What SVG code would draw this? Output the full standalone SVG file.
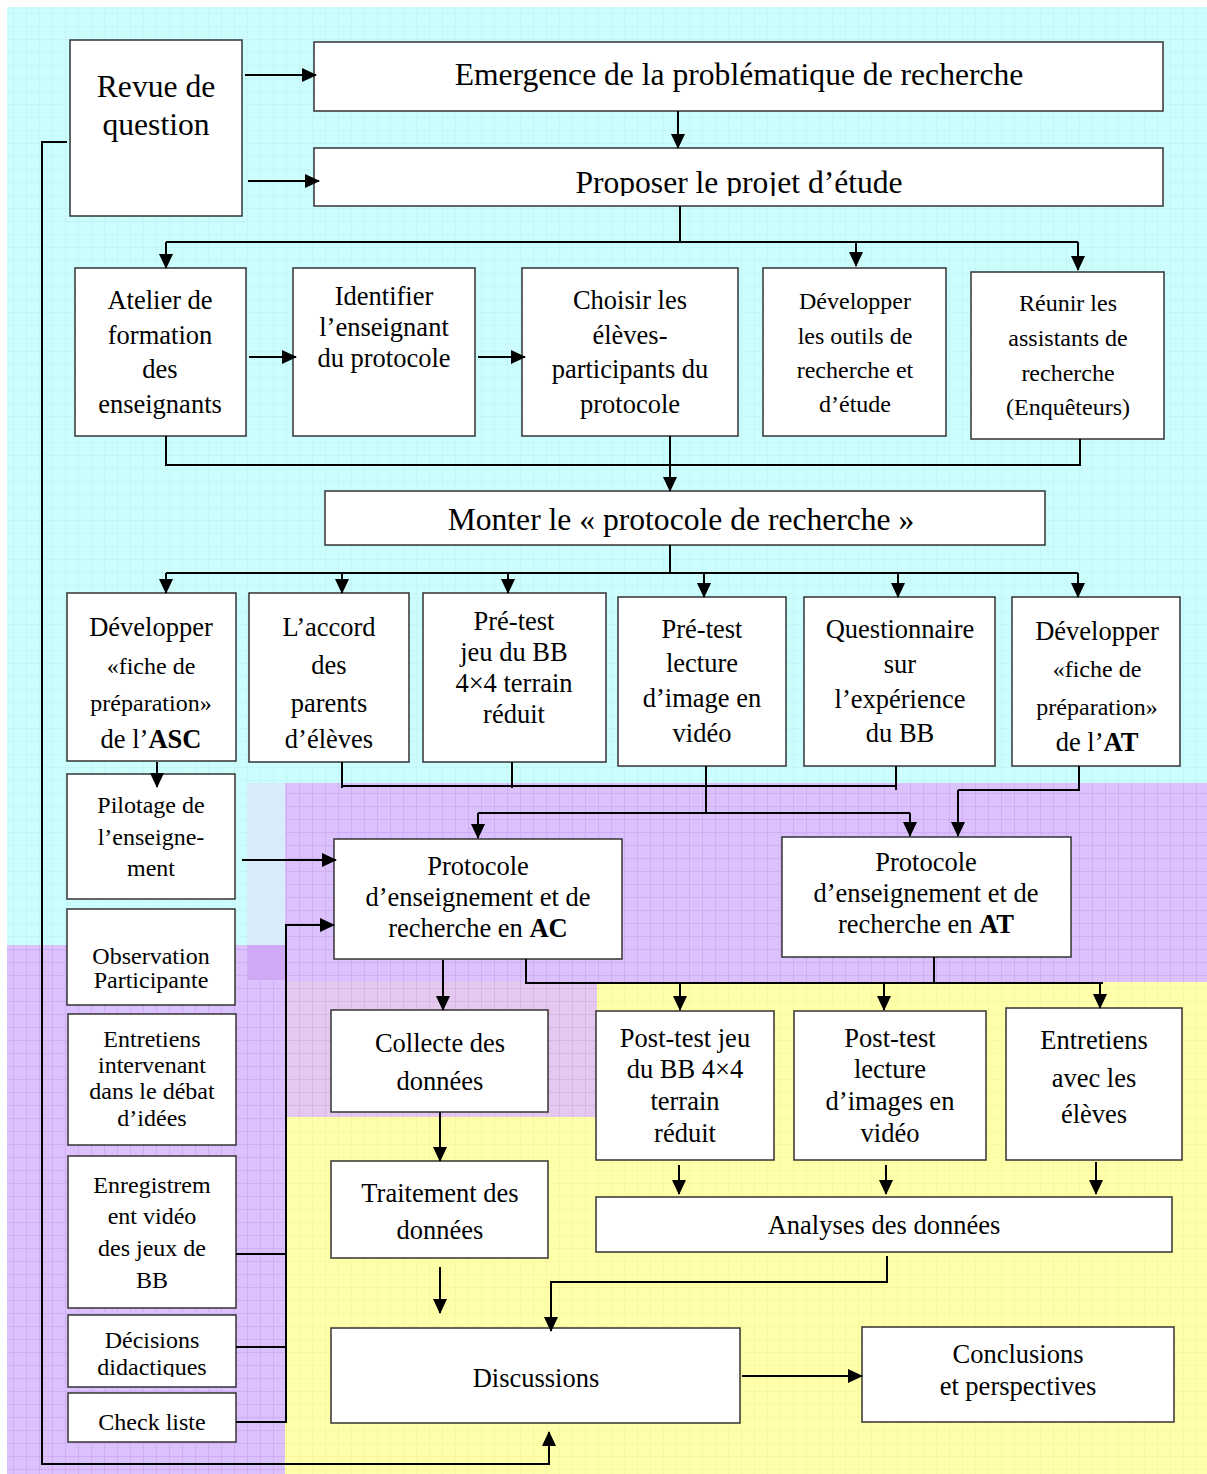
<svg xmlns="http://www.w3.org/2000/svg" width="1207" height="1474" viewBox="0 0 1207 1474">
  <style>
    .box { fill: #ffffff; stroke: #333333; stroke-width: 1.5; }
    .t { font-family: "Liberation Serif", "Times New Roman", serif; fill: #000000; text-anchor: middle; }
    .t32 { font-size: 31.6px; }
    .t26 { font-size: 26.5px; }
    .t24 { font-size: 24px; }
    .ln { fill: none; stroke: #000000; stroke-width: 2; }
    .arr { fill: none; stroke: #000000; stroke-width: 2; marker-end: url(#head); }
    .b { font-weight: bold; }
  </style>
  <defs>
    <marker id="head" markerUnits="userSpaceOnUse" markerWidth="16" markerHeight="16" refX="14" refY="7" orient="auto">
      <path d="M0,0 L15,7 L0,14 z" fill="#000000"/>
    </marker>
    <pattern id="gridCyan" width="13" height="13" patternUnits="userSpaceOnUse">
      <rect width="13" height="13" fill="#ccfdfd"/>
      <path d="M0,0.5 H13 M0.5,0 V13" stroke="#c4f6f8" stroke-width="1"/>
    </pattern>
    <pattern id="gridPurple" width="13" height="13" patternUnits="userSpaceOnUse">
      <rect width="13" height="13" fill="#dcc2fc"/>
      <path d="M0,0.5 H13 M0.5,0 V13" stroke="#cfaef6" stroke-width="1"/>
    </pattern>
    <pattern id="gridPink" width="13" height="13" patternUnits="userSpaceOnUse">
      <rect width="13" height="13" fill="#e4c8ee"/>
      <path d="M0,0.5 H13 M0.5,0 V13" stroke="#d6b6e8" stroke-width="1"/>
    </pattern>
    <pattern id="gridYellow" width="13" height="13" patternUnits="userSpaceOnUse">
      <rect width="13" height="13" fill="#ffffaa"/>
      <path d="M0,0.5 H13 M0.5,0 V13" stroke="#f8f8a2" stroke-width="1"/>
    </pattern>
    <clipPath id="clipProposer"><rect x="314" y="148" width="849" height="48"/></clipPath>
    <clipPath id="clipDecisions"><rect x="68" y="1315" width="168" height="62"/></clipPath>
  </defs>

  <!-- background zones -->
  <g id="background">
    <rect x="0" y="0" width="1207" height="1474" fill="#ffffff"/>
    <rect x="7" y="7" width="1200" height="1467" fill="url(#gridCyan)"/>
    <rect x="247" y="783" width="38" height="162" fill="#d8ecfc"/>
    <rect x="285" y="783" width="922" height="199" fill="url(#gridPurple)"/>
    <rect x="7" y="945" width="278" height="529" fill="url(#gridPurple)"/>
    <rect x="247" y="945" width="38" height="35" fill="#cfa8f6"/>
    <rect x="285" y="982" width="312" height="135" fill="url(#gridPink)"/>
    <rect x="597" y="982" width="610" height="492" fill="url(#gridYellow)"/>
    <rect x="285" y="1117" width="312" height="357" fill="url(#gridYellow)"/>
  </g>

  <!-- nodes -->
  <g id="revue">
    <rect class="box" x="70" y="40" width="172" height="176"/>
    <text class="t t32" x="156" y="97">Revue de</text>
    <text class="t t32" x="156" y="135">question</text>
  </g>
  <g id="emergence">
    <rect class="box" x="314" y="42" width="849" height="69"/>
    <text class="t t32" x="739" y="85">Emergence de la problématique de recherche</text>
  </g>
  <g id="proposer">
    <rect class="box" x="314" y="148" width="849" height="58"/>
    <text class="t t32" x="739" y="193" clip-path="url(#clipProposer)">Proposer le projet d’étude</text>
  </g>

  <g id="atelier">
    <rect class="box" x="75" y="268" width="171" height="168"/>
    <text class="t t26" x="160" y="309">Atelier de</text>
    <text class="t t26" x="160" y="344">formation</text>
    <text class="t t26" x="160" y="378">des</text>
    <text class="t t26" x="160" y="413">enseignants</text>
  </g>
  <g id="identifier">
    <rect class="box" x="293" y="268" width="182" height="168"/>
    <text class="t t26" x="384" y="305">Identifier</text>
    <text class="t t26" x="384" y="336">l’enseignant</text>
    <text class="t t26" x="384" y="367">du protocole</text>
  </g>
  <g id="choisir">
    <rect class="box" x="522" y="268" width="216" height="168"/>
    <text class="t t26" x="630" y="309">Choisir les</text>
    <text class="t t26" x="630" y="344">élèves-</text>
    <text class="t t26" x="630" y="378">participants du</text>
    <text class="t t26" x="630" y="413">protocole</text>
  </g>
  <g id="outils">
    <rect class="box" x="763" y="268" width="183" height="168"/>
    <text class="t t24" x="855" y="309">Développer</text>
    <text class="t t24" x="855" y="344">les outils de</text>
    <text class="t t24" x="855" y="378">recherche et</text>
    <text class="t t24" x="855" y="412">d’étude</text>
  </g>
  <g id="assistants">
    <rect class="box" x="971" y="272" width="193" height="167"/>
    <text class="t t24" x="1068" y="311">Réunir les</text>
    <text class="t t24" x="1068" y="346">assistants de</text>
    <text class="t t24" x="1068" y="381">recherche</text>
    <text class="t t24" x="1068" y="415">(Enquêteurs)</text>
  </g>

  <g id="monter">
    <rect class="box" x="325" y="491" width="720" height="54"/>
    <text class="t t32" x="681" y="530">Monter le « protocole de recherche »</text>
  </g>

  <g id="fiche-asc">
    <rect class="box" x="67" y="593" width="169" height="168"/>
    <text class="t t26" x="151" y="636">Développer</text>
    <text class="t t24" x="151" y="674">«fiche de</text>
    <text class="t t24" x="151" y="711">préparation»</text>
    <text class="t t26" x="151" y="748">de l’<tspan class="b">ASC</tspan></text>
  </g>
  <g id="accord">
    <rect class="box" x="249" y="593" width="160" height="169"/>
    <text class="t t26" x="329" y="636">L’accord</text>
    <text class="t t26" x="329" y="674">des</text>
    <text class="t t26" x="329" y="712">parents</text>
    <text class="t t26" x="329" y="748">d’élèves</text>
  </g>
  <g id="pretest-jeu">
    <rect class="box" x="423" y="593" width="183" height="169"/>
    <text class="t t26" x="514" y="630">Pré-test</text>
    <text class="t t26" x="514" y="661">jeu du BB</text>
    <text class="t t26" x="514" y="692">4×4 terrain</text>
    <text class="t t26" x="514" y="723">réduit</text>
  </g>
  <g id="pretest-lecture">
    <rect class="box" x="618" y="597" width="168" height="169"/>
    <text class="t t26" x="702" y="638">Pré-test</text>
    <text class="t t26" x="702" y="672">lecture</text>
    <text class="t t26" x="702" y="707">d’image en</text>
    <text class="t t26" x="702" y="742">vidéo</text>
  </g>
  <g id="questionnaire">
    <rect class="box" x="804" y="597" width="191" height="169"/>
    <text class="t t26" x="900" y="638">Questionnaire</text>
    <text class="t t26" x="900" y="673">sur</text>
    <text class="t t26" x="900" y="708">l’expérience</text>
    <text class="t t26" x="900" y="742">du BB</text>
  </g>
  <g id="fiche-at">
    <rect class="box" x="1012" y="597" width="168" height="169"/>
    <text class="t t26" x="1097" y="640">Développer</text>
    <text class="t t24" x="1097" y="677">«fiche de</text>
    <text class="t t24" x="1097" y="715">préparation»</text>
    <text class="t t26" x="1097" y="751">de l’<tspan class="b">AT</tspan></text>
  </g>

  <g id="pilotage">
    <rect class="box" x="67" y="774" width="168" height="125"/>
    <text class="t t24" x="151" y="813">Pilotage de</text>
    <text class="t t24" x="151" y="845">l’enseigne-</text>
    <text class="t t24" x="151" y="876">ment</text>
  </g>
  <g id="observation">
    <rect class="box" x="67" y="909" width="168" height="96"/>
    <text class="t t24" x="151" y="964">Observation</text>
    <text class="t t24" x="151" y="988">Participante</text>
  </g>
  <g id="entretiens-debat">
    <rect class="box" x="68" y="1014" width="168" height="131"/>
    <text class="t t24" x="152" y="1047">Entretiens</text>
    <text class="t t24" x="152" y="1073">intervenant</text>
    <text class="t t24" x="152" y="1099">dans le débat</text>
    <text class="t t24" x="152" y="1126">d’idées</text>
  </g>
  <g id="enregistrement">
    <rect class="box" x="68" y="1156" width="168" height="152"/>
    <text class="t t24" x="152" y="1193">Enregistrem</text>
    <text class="t t24" x="152" y="1224">ent vidéo</text>
    <text class="t t24" x="152" y="1256">des jeux de</text>
    <text class="t t24" x="152" y="1288">BB</text>
  </g>
  <g id="decisions">
    <rect class="box" x="68" y="1315" width="168" height="72"/>
    <g clip-path="url(#clipDecisions)">
      <text class="t t24" x="152" y="1348">Décisions</text>
      <text class="t t24" x="152" y="1375">didactiques</text>
    </g>
  </g>
  <g id="checkliste">
    <rect class="box" x="68" y="1393" width="168" height="49"/>
    <text class="t t24" x="152" y="1430">Check liste</text>
  </g>

  <g id="protocole-ac">
    <rect class="box" x="334" y="839" width="288" height="120"/>
    <text class="t t26" x="478" y="875">Protocole</text>
    <text class="t t26" x="478" y="906">d’enseignement et de</text>
    <text class="t t26" x="478" y="937">recherche en <tspan class="b">AC</tspan></text>
  </g>
  <g id="protocole-at">
    <rect class="box" x="782" y="837" width="289" height="120"/>
    <text class="t t26" x="926" y="871">Protocole</text>
    <text class="t t26" x="926" y="902">d’enseignement et de</text>
    <text class="t t26" x="926" y="933">recherche en <tspan class="b">AT</tspan></text>
  </g>

  <g id="collecte">
    <rect class="box" x="331" y="1010" width="217" height="102"/>
    <text class="t t26" x="440" y="1052">Collecte des</text>
    <text class="t t26" x="440" y="1090">données</text>
  </g>
  <g id="traitement">
    <rect class="box" x="331" y="1161" width="217" height="97"/>
    <text class="t t26" x="440" y="1202">Traitement des</text>
    <text class="t t26" x="440" y="1239">données</text>
  </g>
  <g id="posttest-jeu">
    <rect class="box" x="596" y="1011" width="178" height="149"/>
    <text class="t t26" x="685" y="1047">Post-test jeu</text>
    <text class="t t26" x="685" y="1078">du BB 4×4</text>
    <text class="t t26" x="685" y="1110">terrain</text>
    <text class="t t26" x="685" y="1142">réduit</text>
  </g>
  <g id="posttest-lecture">
    <rect class="box" x="794" y="1011" width="192" height="149"/>
    <text class="t t26" x="890" y="1047">Post-test</text>
    <text class="t t26" x="890" y="1078">lecture</text>
    <text class="t t26" x="890" y="1110">d’images en</text>
    <text class="t t26" x="890" y="1142">vidéo</text>
  </g>
  <g id="entretiens-eleves">
    <rect class="box" x="1006" y="1008" width="176" height="152"/>
    <text class="t t26" x="1094" y="1049">Entretiens</text>
    <text class="t t26" x="1094" y="1087">avec les</text>
    <text class="t t26" x="1094" y="1123">élèves</text>
  </g>
  <g id="analyses">
    <rect class="box" x="596" y="1197" width="576" height="55"/>
    <text class="t t26" x="884" y="1234">Analyses des données</text>
  </g>
  <g id="discussions">
    <rect class="box" x="331" y="1328" width="409" height="95"/>
    <text class="t t26" x="536" y="1387">Discussions</text>
  </g>
  <g id="conclusions">
    <rect class="box" x="862" y="1327" width="312" height="95"/>
    <text class="t t26" x="1018" y="1363">Conclusions</text>
    <text class="t t26" x="1018" y="1395">et perspectives</text>
  </g>

  <!-- connectors, drawn over the boxes so arrowheads stay visible -->
  <g id="connectors">
    <path class="arr" d="M245,75 H316"/>
    <path class="arr" d="M248,181 H319"/>
    <path class="arr" d="M678,111 V148"/>
    <path class="ln" d="M680,206 V242 M166,242 H1078"/>
    <path class="arr" d="M166,242 V268"/>
    <path class="arr" d="M856,242 V266"/>
    <path class="arr" d="M1078,242 V270"/>
    <path class="arr" d="M249,357 H296"/>
    <path class="arr" d="M478,357 H525"/>
    <path class="ln" d="M166,436 V465 H1080 V439"/>
    <path class="arr" d="M670,436 V491"/>
    <path class="ln" d="M670,545 V573 M166,573 H1078"/>
    <path class="arr" d="M166,573 V593"/>
    <path class="arr" d="M342,573 V593"/>
    <path class="arr" d="M508,573 V593"/>
    <path class="arr" d="M704,573 V597"/>
    <path class="arr" d="M898,573 V597"/>
    <path class="arr" d="M1078,573 V597"/>
    <path class="arr" d="M157,762 V787"/>
    <path class="ln" d="M342,762 V788 M512,762 V788 M896,766 V790 M342,786 H896"/>
    <path class="ln" d="M706,766 V813 M478,813 H910"/>
    <path class="arr" d="M478,813 V838"/>
    <path class="arr" d="M910,813 V836"/>
    <path class="ln" d="M1079,766 V790 H958"/>
    <path class="arr" d="M958,790 V836"/>
    <path class="arr" d="M242,860 H336"/>
    <path class="arr" d="M286,1423 V925 H334"/>
    <path class="ln" d="M236,1254 H286 M236,1347 H286 M236,1422 H286"/>
    <path class="arr" d="M443,960 V1010"/>
    <path class="ln" d="M526,959 V983 H1103 M934,957 V983"/>
    <path class="arr" d="M680,983 V1010"/>
    <path class="arr" d="M884,983 V1010"/>
    <path class="arr" d="M1100,983 V1008"/>
    <path class="arr" d="M440,1112 V1161"/>
    <path class="arr" d="M440,1267 V1313"/>
    <path class="arr" d="M679,1165 V1194"/>
    <path class="arr" d="M886,1165 V1194"/>
    <path class="arr" d="M1096,1162 V1194"/>
    <path class="arr" d="M887,1256 V1282 H551 V1331"/>
    <path class="arr" d="M742,1376 H862"/>
    <path class="arr" d="M67,142 H42 V1464 H549 V1432"/>
  </g>
</svg>
